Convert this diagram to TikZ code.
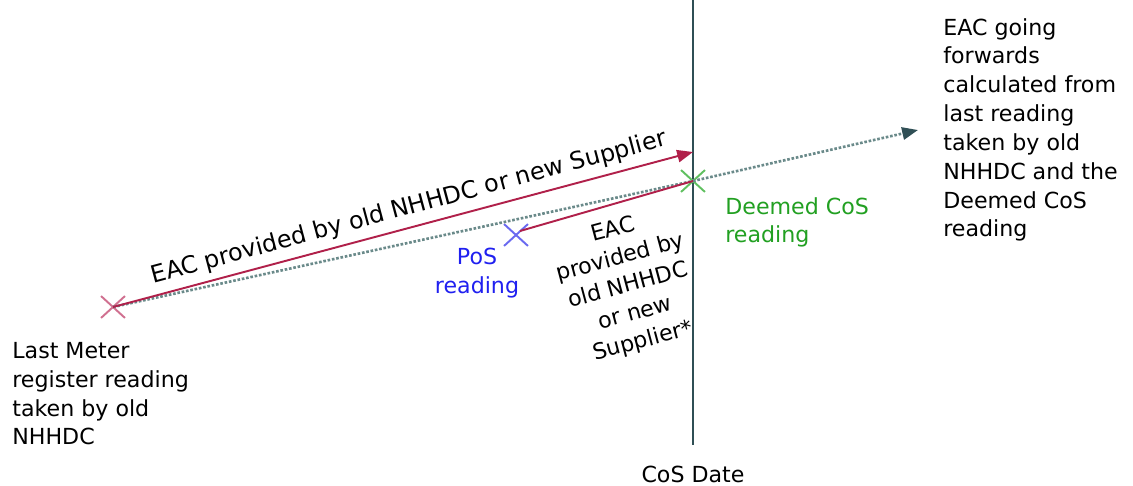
\documentclass[tikz,border=0pt]{standalone}
\usepackage{fontspec}
\setmainfont{DejaVu Sans}
\usetikzlibrary{shapes.misc,arrows.meta}
\definecolor{eacred}{HTML}{B0204A}
\definecolor{lmpink}{HTML}{D07090}
\definecolor{posblue}{HTML}{2020F0}
\definecolor{xblue}{HTML}{6A6AF0}
\definecolor{cosgreen}{HTML}{22A022}
\definecolor{xgreen}{HTML}{60C060}
\definecolor{slate}{HTML}{2F4F55}
\definecolor{dotc}{HTML}{6A8A8A}
\begin{document}
\begin{tikzpicture}[x=0.02cm,y=-0.02cm,
  txt/.style={font=\fontsize{12.6}{16.4}\selectfont, inner sep=0pt},
  bigtxt/.style={font=\fontsize{13.6}{17}\selectfont, inner sep=0pt},
  xmark/.style={cross out, draw=#1, line width=1.1pt, minimum width=22*0.02cm, minimum height=20*0.02cm, inner sep=0pt},
  eacline/.style={draw=eacred, line width=1.1pt},
  dotline/.style={draw=dotc, line width=1.5pt, densely dotted}]
\useasboundingbox (0,0) rectangle (1133,485);
% vertical CoS line
\coordinate (vtop) at (693,0);
\coordinate (vbot) at (693,445);
\draw[slate, line width=1.1pt] (vtop) -- (vbot);
% marks
\node[xmark=lmpink] (lm) at (113,307) {};
\node[xmark=xblue] (pos) at (516,235) {};
\node[xmark=xgreen] (cos) at (693,181) {};
\coordinate (redtip) at (693,152);
\coordinate (dottip) at (918,130);
\coordinate (posstart) at (520,231);
% dotted line
\draw[dotline] (lm.center) -- (cos.center);
\draw[dotline, -{Triangle[length=9pt,width=7pt,color=slate]}] (cos.center) -- (dottip);
% red lines
\draw[eacline, -{Triangle[length=9pt,width=7pt]}] (lm.center) -- (redtip);
\draw[eacline] (posstart) -- (cos.center);
% labels
\node[bigtxt, rotate=15] (eac1) at (409,208) {EAC provided by old NHHDC or new Supplier};
\node[txt, rotate=15, align=center] (eac2) at (628,286) {EAC\\provided by\\old NHHDC\\or new\\Supplier*};
\node[txt, text=posblue, align=center] (posl) at (477,273) {PoS\\reading};
\node[txt, text=cosgreen, align=left, anchor=north west] (cosl) at (725,197) {Deemed CoS\\reading};
\node[txt, align=left, anchor=north west] (lml) at (12,342) {Last Meter\\register reading\\taken by old\\NHHDC};
\node[txt, align=left, anchor=north west] (fwd) at (943,18) {EAC going\\forwards\\calculated from\\last reading\\taken by old\\NHHDC and the\\Deemed CoS\\reading};
\node[txt] (cosd) at (693,474) {CoS Date};
\end{tikzpicture}
\end{document}
